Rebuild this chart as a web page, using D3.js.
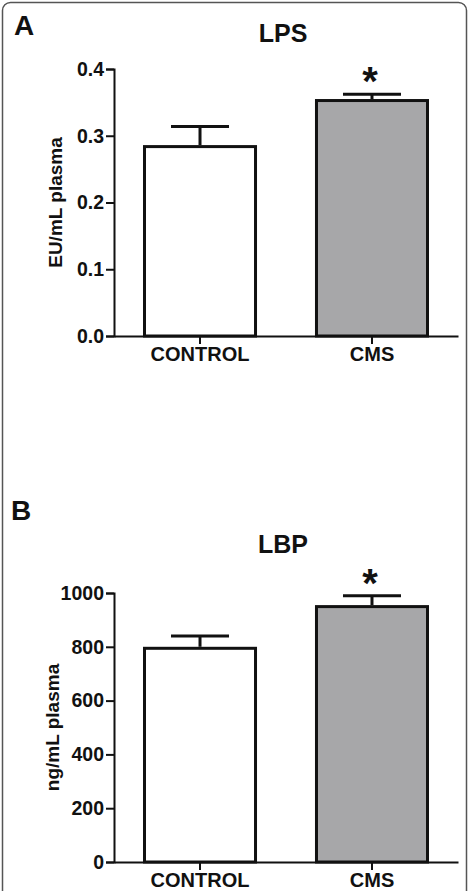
<!DOCTYPE html>
<html>
<head>
<meta charset="utf-8">
<script src="https://cdn.jsdelivr.net/npm/d3@7"></script>
<style>
  body { margin: 0; background: #fff; }
  svg text { font-family: "Liberation Sans", Arial, sans-serif; font-weight: bold; fill: #111; }
</style>
</head>
<body>
<svg id="chart" width="471" height="891"></svg>
<script>
// Данные
const categories = ["CONTROL", "CMS"];
const lpsMeans = [0.286, 0.355];
const lpsErrors = [0.028, 0.007];
const lpsTicks = [0, 0.1, 0.2, 0.3, 0.4];
const lbpMeans = [800, 955];
const lbpErrors = [40, 35];
const lbpTicks = [0, 200, 400, 600, 800, 1000];
const barColors = ["#ffffff", "#a7a7a9"];
const significant = [false, true];

const svg = d3.select("#chart");

// Рамка
svg.append("rect")
  .attr("x", 2.5).attr("y", 2.5)
  .attr("width", 464).attr("height", 920)
  .attr("rx", 8)
  .attr("fill", "none")
  .attr("stroke", "#555")
  .attr("stroke-width", 1.5);

const x = d3.scaleBand()
  .domain(categories)
  .range([114, 458])
  .paddingInner(0.337)
  .paddingOuter(0.1686);

const drawPanel = (p) => {
  const g = svg.append("g");
  const y = d3.scaleLinear().domain(p.domain).range([p.bottom, p.top]);

  // Буква панели и заголовок
  g.append("text").attr("x", p.letterX).attr("y", p.letterY)
    .style("font-size", "28px").text(p.letter);
  g.append("text").attr("x", 283).attr("y", p.titleY)
    .attr("text-anchor", "middle").style("font-size", "25px").text(p.title);

  // Ось Y
  const yAxis = g.append("g")
    .attr("transform", "translate(114,0)")
    .call(d3.axisLeft(y).tickValues(p.ticks).tickFormat(p.format).tickSize(8).tickPadding(2));
  yAxis.select(".domain").attr("stroke", "#111").attr("stroke-width", 2);
  yAxis.selectAll(".tick line").attr("stroke", "#111").attr("stroke-width", 2);
  yAxis.selectAll(".tick text").style("font-size", "19.5px").attr("fill", "#111");

  g.append("text")
    .attr("transform", `translate(${p.labelX},${(p.top + p.bottom) / 2}) rotate(-90)`)
    .attr("text-anchor", "middle").style("font-size", "19px").text(p.yLabel);

  // Столбцы
  const inset = 1.5;
  g.selectAll(".bar").data(categories).enter().append("rect")
    .attr("x", (d) => x(d) + inset)
    .attr("y", (d, i) => y(p.means[i]) + inset)
    .attr("width", x.bandwidth() - 2 * inset)
    .attr("height", (d, i) => y(0) - y(p.means[i]) - inset)
    .attr("fill", (d, i) => barColors[i])
    .attr("stroke", "#111")
    .attr("stroke-width", 3);

  // Планки погрешностей
  categories.forEach((c, i) => {
    const cx = x(c) + x.bandwidth() / 2;
    const top = y(p.means[i] + p.errors[i]);
    g.append("line").attr("x1", cx).attr("x2", cx)
      .attr("y1", y(p.means[i])).attr("y2", top)
      .attr("stroke", "#111").attr("stroke-width", 3);
    g.append("line").attr("x1", cx - 29).attr("x2", cx + 29)
      .attr("y1", top).attr("y2", top)
      .attr("stroke", "#111").attr("stroke-width", 3);
    if (significant[i]) {
      g.append("text").attr("x", cx - 2).attr("y", top + 1)
        .attr("text-anchor", "middle").style("font-size", "40px").text("*");
    }
  });

  // Ось X
  const xAxis = g.append("g")
    .attr("transform", `translate(0,${p.bottom})`)
    .call(d3.axisBottom(x).tickSize(8).tickSizeOuter(0).tickPadding(3));
  xAxis.select(".domain").attr("stroke", "#111").attr("stroke-width", 2);
  xAxis.selectAll(".tick line").attr("stroke", "#111").attr("stroke-width", 2);
  xAxis.selectAll(".tick text").style("font-size", "20px").attr("fill", "#111");
};

drawPanel({
  letter: "A", letterX: 14, letterY: 35, title: "LPS", titleY: 42,
  domain: [0, 0.4], top: 69, bottom: 336, ticks: lpsTicks, format: d3.format(".1f"),
  yLabel: "EU/mL plasma", labelX: 62, means: lpsMeans, errors: lpsErrors
});

drawPanel({
  letter: "B", letterX: 11, letterY: 520, title: "LBP", titleY: 553,
  domain: [0, 1000], top: 593, bottom: 862, ticks: lbpTicks, format: d3.format("d"),
  yLabel: "ng/mL plasma", labelX: 59, means: lbpMeans, errors: lbpErrors
});
</script>
</body>
</html>
